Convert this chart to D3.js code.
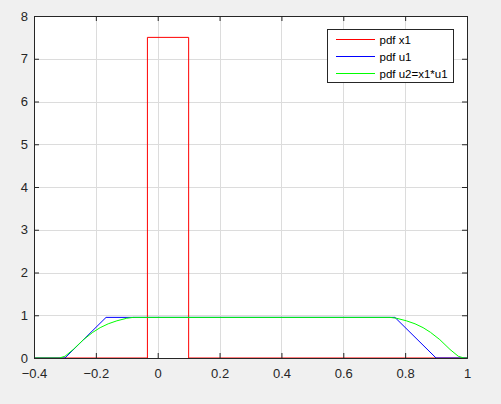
<!DOCTYPE html>
<html>
<head>
<meta charset="utf-8">
<script src="https://cdn.jsdelivr.net/npm/d3@7"></script>
<style>
  body { margin: 0; background: #f0f0f0; }
  svg { display: block; font-family: "Liberation Sans", Arial, sans-serif; }
</style>
</head>
<body>
<div class="plot"></div>
<script>
// data
var x1X = [-0.4, -0.0333, -0.0333, 0.1, 0.1, 1];
var x1Y = [0, 0, 7.5, 7.5, 0, 0];

var u1X = [-0.4, -0.3, -0.167, 0.767, 0.9, 1];
var u1Y = [0, 0, 0.95, 0.95, 0, 0];

var u2X = [-0.4, -0.318, -0.3, -0.273, -0.24, -0.21, -0.186, -0.16, -0.132, -0.1, -0.079,
           0.751, 0.772, 0.804, 0.832, 0.858, 0.882, 0.912, 0.945, 0.972, 0.99, 1];
var u2Y = [0, 0, 0.04, 0.2, 0.43, 0.6, 0.71, 0.8, 0.87, 0.93, 0.95,
           0.95, 0.93, 0.87, 0.8, 0.71, 0.6, 0.43, 0.2, 0.04, 0, 0];

var xTicks = [-0.4, -0.2, 0, 0.2, 0.4, 0.6, 0.8, 1];
var yTicks = [0, 1, 2, 3, 4, 5, 6, 7, 8];

var legendNames = ["pdf x1", "pdf u1", "pdf u2=x1*u1"];
var legendColors = ["#ff0000", "#0000ff", "#00ff00"];

var svgWidth = 501;
var svgHeight = 404;
var margin = { top: 16, right: 34, bottom: 46, left: 34 };
var width = svgWidth - margin.left - margin.right;
var height = svgHeight - margin.top - margin.bottom;

var svg = d3.select(".plot")
  .append("svg")
  .attr("width", svgWidth)
  .attr("height", svgHeight);

var chartGroup = svg.append("g")
  .attr("transform", `translate(${margin.left}, ${margin.top})`);

var x = d3.scaleLinear().domain([-0.4, 1]).range([0, width]);
var y = d3.scaleLinear().domain([0, 8]).range([height, 0]);

// white plot area
chartGroup.append("rect")
  .attr("width", width)
  .attr("height", height)
  .attr("fill", "#ffffff");

// grid
chartGroup.append("g")
  .selectAll("line")
  .data(xTicks)
  .join("line")
  .attr("x1", d => Math.round(x(d)) + 0.5)
  .attr("x2", d => Math.round(x(d)) + 0.5)
  .attr("y1", 0)
  .attr("y2", height)
  .attr("stroke", "#dcdcdc");

chartGroup.append("g")
  .selectAll("line")
  .data(yTicks)
  .join("line")
  .attr("y1", d => Math.round(y(d)) + 0.5)
  .attr("y2", d => Math.round(y(d)) + 0.5)
  .attr("x1", 0)
  .attr("x2", width)
  .attr("stroke", "#dcdcdc");

// curves
var line = d3.line()
  .x(d => x(d[0]))
  .y(d => y(d[1]));

var series = [
  { xs: x1X, ys: x1Y, color: legendColors[0] },
  { xs: u1X, ys: u1Y, color: legendColors[1] },
  { xs: u2X, ys: u2Y, color: legendColors[2] }
];

chartGroup.append("g")
  .selectAll("path")
  .data(series)
  .join("path")
  .attr("d", s => line(s.xs.map((v, i) => [v, s.ys[i]])))
  .attr("fill", "none")
  .attr("stroke", s => s.color)
  .attr("stroke-width", 1);

// axes, ticks inward like matlab
var axisColor = "#262626";

chartGroup.append("g")
  .attr("transform", `translate(0, ${height})`)
  .call(d3.axisBottom(x).tickValues(xTicks).tickSize(-5).tickPadding(11).tickFormat(d3.format("")))
  .attr("font-size", 13)
  .attr("font-family", "Liberation Sans, Arial, sans-serif");

chartGroup.append("g")
  .call(d3.axisLeft(y).tickValues(yTicks).tickSize(-5).tickPadding(6))
  .attr("font-size", 13)
  .attr("font-family", "Liberation Sans, Arial, sans-serif");

chartGroup.append("g")
  .call(d3.axisTop(x).tickValues(xTicks).tickSize(-5).tickFormat(""));

chartGroup.append("g")
  .attr("transform", `translate(${width}, 0)`)
  .call(d3.axisRight(y).tickValues(yTicks).tickSize(-5).tickFormat(""));

chartGroup.selectAll(".domain, .tick line").attr("stroke", axisColor);
chartGroup.selectAll(".tick text").attr("fill", axisColor);

// legend
var legend = chartGroup.append("g")
  .attr("transform", "translate(293.5, 13.5)");

legend.append("rect")
  .attr("width", 126)
  .attr("height", 53)
  .attr("fill", "#ffffff")
  .attr("stroke", axisColor);

var rows = legend.selectAll(".row")
  .data(legendNames)
  .join("g")
  .attr("class", "row")
  .attr("transform", (d, i) => `translate(0, ${10 + i * 17})`);

rows.append("line")
  .attr("x1", 8.5)
  .attr("x2", 47.5)
  .attr("y1", 0)
  .attr("y2", 0)
  .attr("stroke", (d, i) => legendColors[i]);

rows.append("text")
  .attr("x", 52)
  .attr("y", 4)
  .attr("fill", "#000000")
  .attr("font-size", 11.5)
  .text(d => d);
</script>
</body>
</html>
